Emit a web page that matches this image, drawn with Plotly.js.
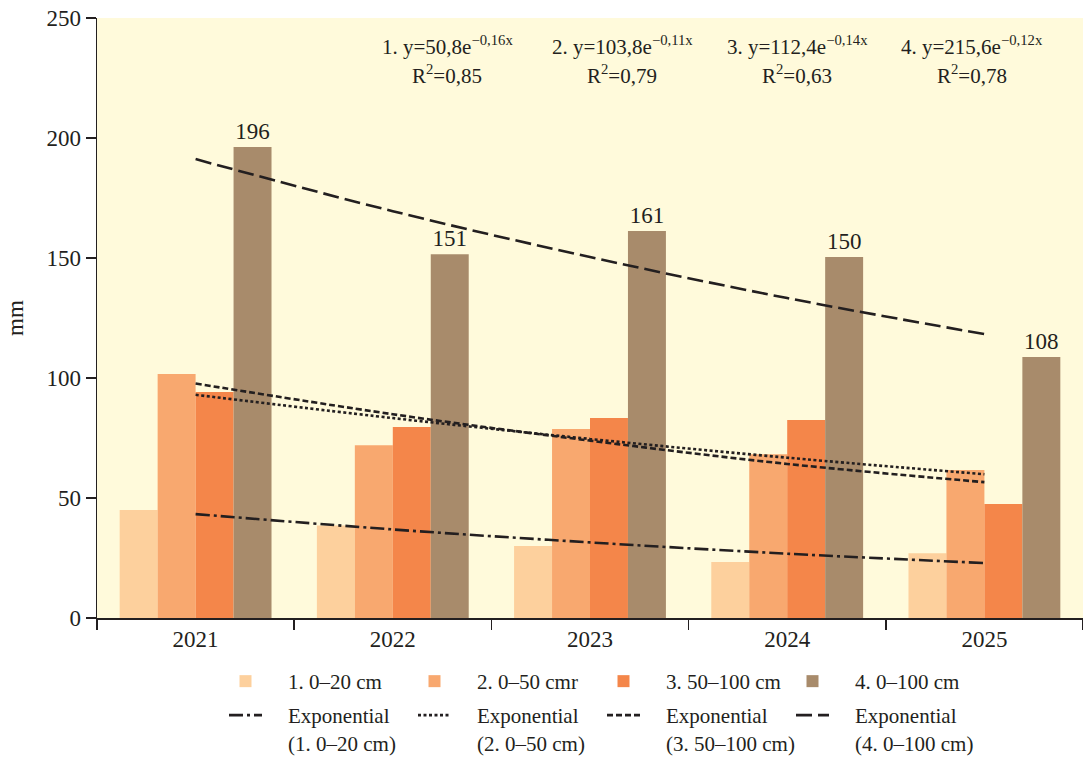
<!DOCTYPE html>
<html>
<head>
<meta charset="utf-8">
<script src="https://cdn.plot.ly/plotly-3.0.1.min.js"></script>
<style>html,body{margin:0;padding:0;background:#fff;}#chart{width:1083px;height:757px;}</style>
</head>
<body>
<div id="chart"></div>
<script>
// ---- data ----
const years = ['2021', '2022', '2023', '2024', '2025'];
const layer1 = [45.0, 38.5, 30.0, 23.3, 27.0];      // 1. 0–20 cm
const layer2 = [101.7, 72.0, 78.7, 68.2, 61.7];     // 2. 0–50 cm
const layer3 = [94.2, 79.6, 83.3, 82.5, 47.5];      // 3. 50–100 cm
const layer4 = [196.3, 151.6, 161.2, 150.4, 108.7]; // 4. 0–100 cm
const layer4Labels = ['196', '151', '161', '150', '108'];
// exponential trend lines, read at each year
const trend1 = [43.3, 36.9, 31.5, 26.8, 22.9];
const trend2 = [93.0, 83.3, 74.6, 66.8, 59.9];
const trend3 = [97.7, 84.9, 73.9, 64.2, 56.6];
const trend4 = [191.2, 169.5, 150.4, 133.3, 118.3];
const seriesNames = ['1. 0–20 cm', '2. 0–50 cmr', '3. 50–100 cm', '4. 0–100 cm'];
const trendLine1 = ['Exponential', 'Exponential', 'Exponential', 'Exponential'];
const trendLine2 = ['(1. 0–20 cm)', '(2. 0–50 cm)', '(3. 50–100 cm)', '(4. 0–100 cm)'];
const equations = ['1. y=50,8e<sup>−0,16x</sup>', '2. y=103,8e<sup>−0,11x</sup>', '3. y=112,4e<sup>−0,14x</sup>', '4. y=215,6e<sup>−0,12x</sup>'];
const r2 = ['R<sup>2</sup>=0,85', 'R<sup>2</sup>=0,79', 'R<sup>2</sup>=0,63', 'R<sup>2</sup>=0,78'];
const yTicks = [0, 50, 100, 150, 200, 250];

// ---- styles ----
const FONT = 'Liberation Serif, Times New Roman, serif';
const barColors = ['#FDD09D', '#F8A86F', '#F4864A', '#A88B6B'];
const trendDash = ['14px,4px,3px,4px', '3px,2.5px', '6px,3px', '16px,6px'];
const INK = '#231F20';
const PAD = '\u00a0\u00a0\u00a0\u00a0';

const barData = [layer1, layer2, layer3, layer4];
const trendData = [trend1, trend2, trend3, trend4];

const traces = [];
barData.forEach((vals, i) => {
  const t = {
    type: 'bar', x: years, y: vals, name: PAD + seriesNames[i],
    marker: {color: barColors[i], line: {width: 0}},
    legend: 'legend', hoverinfo: 'x+y'
  };
  if (i === 3) {
    t.text = layer4Labels;
    t.textposition = 'outside';
    t.textfont = {family: FONT, size: 23, color: INK};
    t.cliponaxis = false;
  }
  traces.push(t);
});
trendData.forEach((vals, i) => {
  traces.push({
    type: 'scatter', mode: 'lines', x: years, y: vals,
    name: PAD + trendLine1[i] + '<br>' + PAD + trendLine2[i],
    line: {color: INK, width: 2.6, dash: trendDash[i], shape: 'spline'},
    legend: 'legend2', hoverinfo: 'x+y'
  });
});

const annotations = [];
const eqX = [447, 622, 797, 972];
eqX.forEach((px, i) => {
  const xp = (px - 97) / 986;
  annotations.push({xref: 'paper', yref: 'paper', x: xp, y: (618 - 45) / 600, text: equations[i],
    showarrow: false, xanchor: 'center', yanchor: 'middle', font: {family: FONT, size: 21, color: INK}});
  annotations.push({xref: 'paper', yref: 'paper', x: xp, y: (618 - 74) / 600, text: r2[i],
    showarrow: false, xanchor: 'center', yanchor: 'middle', font: {family: FONT, size: 21, color: INK}});
});

const legendCommon = {
  orientation: 'h', xref: 'container', yref: 'container', xanchor: 'left', yanchor: 'top',
  font: {family: FONT, size: 21, color: INK}, bgcolor: 'rgba(0,0,0,0)',
  entrywidth: 141, entrywidthmode: 'pixels', itemwidth: 33, traceorder: 'normal',
  valign: 'top', itemclick: false, itemdoubleclick: false
};

const layout = {
  width: 1083, height: 757,
  margin: {l: 97, r: 0, t: 18, b: 139, pad: 0},
  paper_bgcolor: '#FFFFFF',
  plot_bgcolor: '#FFFADB',
  barmode: 'group', bargap: 0.23, bargroupgap: 0,
  font: {family: FONT, color: INK},
  xaxis: {
    type: 'category', showline: true, linecolor: INK, linewidth: 1.5,
    ticks: 'outside', tickson: 'boundaries', ticklen: 10, tickcolor: INK, tickwidth: 1.5,
    tickfont: {family: FONT, size: 23, color: INK}, showgrid: false, zeroline: false
  },
  yaxis: {
    range: [0, 250], tickvals: yTicks, showline: true, linecolor: INK, linewidth: 1.5,
    ticks: 'outside', ticklen: 10, tickcolor: INK, tickwidth: 1.5,
    tickfont: {family: FONT, size: 23, color: INK}, showgrid: false, zeroline: false,
    title: {text: 'mm', font: {family: FONT, size: 23, color: INK}, standoff: 16}
  },
  showlegend: true,
  legend: Object.assign({}, legendCommon, {x: 224 / 1083, y: (757 - 661) / 757}),
  legend2: Object.assign({}, legendCommon, {x: 224 / 1083, y: (757 - 695) / 757}),
  annotations: annotations
};

Plotly.newPlot('chart', traces, layout, {displayModeBar: false, staticPlot: true});
</script>
</body>
</html>
